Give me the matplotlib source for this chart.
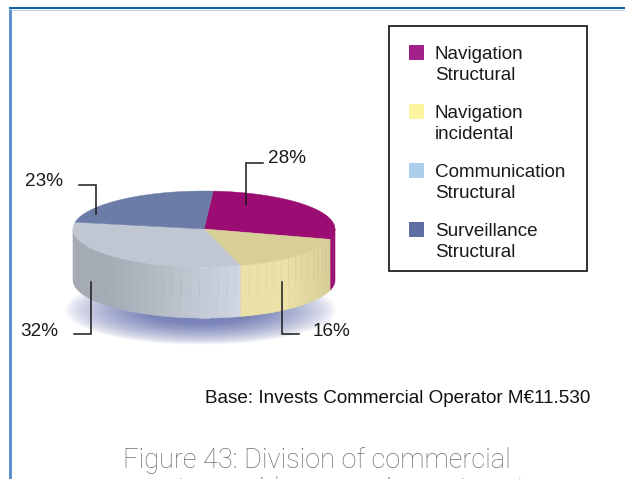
import numpy as np
import matplotlib
matplotlib.use('Agg')
import matplotlib.pyplot as plt
from matplotlib.patches import Rectangle

plt.rcParams['font.family'] = ['Liberation Sans', 'DejaVu Sans']

# Shares, clockwise from the top
labels = ['Navigation\nStructural', 'Navigation\nincidental', 'Communication\nStructural', 'Surveillance\nStructural']
shares = [28, 16, 32, 23]
share_labels = ['28%', '16%', '32%', '23%']
top_colors = ['#9b0d72', '#d8cf98', '#c0c7d2', '#6b7ca6']
legend_colors = ['#a3218a', '#fdf6a0', '#abcfec', '#5f6fa3']

base_note = 'Base: Invests Commercial Operator M€11.530'
# Second caption line is nearly all cut off in the reference, wording is a guess
title_lines = ['Figure 43: Division of commercial', 'operators guidance equipment cost']

# Pie geometry in image pixels
cx, cy = 204, 229
rx, ry = 131, 38
depth = 51
start_angle = 86


def ellipse_xy(angles):
    rad = np.radians(angles)
    return cx + rx * np.cos(rad), cy - ry * np.sin(rad)


def wall_color(x, a, b, x0, x1):
    t = np.clip((x - x0) / (x1 - x0), 0, 1)
    return tuple((np.array(a) + (np.array(b) - np.array(a)) * t) / 255)


fig = plt.figure(figsize=(6.25, 4.79), dpi=100)
ax = fig.add_axes([0, 0, 1, 1])
ax.set_xlim(0, 625)
ax.set_ylim(479, 0)
ax.axis('off')

# Page frame
ax.plot([10, 10], [9, 479], color='#4f8bc9', lw=2.0, solid_capstyle='butt')
ax.plot([9, 625], [8.2, 8.2], color='#0f5cab', lw=1.4, solid_capstyle='butt')
ax.plot([11, 625], [9.6, 9.6], color='#b5d0ec', lw=0.8, solid_capstyle='butt')

# Soft shadow under the pie
gx, gy = np.meshgrid(np.linspace(-1, 1, 300), np.linspace(-1, 1, 120))
dist = np.sqrt(gx ** 2 + gy ** 2)
shadow = np.zeros(dist.shape + (4,))
shadow[..., :3] = np.array([122, 132, 184]) / 255
shadow[..., 3] = np.clip((1 - dist) / 0.6, 0, 1) ** 0.7
ax.imshow(shadow, extent=[64, 337, 345, 275], aspect='auto', zorder=1, interpolation='bilinear')
ax.set_xlim(0, 625)
ax.set_ylim(479, 0)

# Slice angles come from the shares
fracs = np.array(shares) / sum(shares)
edges = start_angle - np.concatenate([[0], np.cumsum(fracs)]) * 360

# Side wall, drawn in strips
wall_styles = [
    ((155, 13, 114), (155, 13, 114), 325, 334),
    ((236, 226, 168), (214, 205, 150), 285, 331),
    ((164, 171, 180), (208, 214, 226), 108, 239),
]
for i, (a, b, x0, x1) in enumerate(wall_styles):
    lo, hi = edges[i + 1], edges[i]
    lo = max(lo, -180)
    hi = min(hi, 0)
    steps = np.arange(lo, hi + 4, 4.0)
    steps[-1] = hi
    for s0, s1 in zip(steps[:-1], steps[1:]):
        xs, ys = ellipse_xy(np.array([s0, s1]))
        c = wall_color((xs[0] + xs[1]) / 2, a, b, x0, x1)
        ax.fill([xs[0], xs[1], xs[1], xs[0]], [ys[0], ys[1], ys[1] + depth, ys[0] + depth],
                fc=c, ec=c, lw=0.4, zorder=2)
        if xs[0] > 108 and i > 0:
            ax.plot([xs[0], xs[0]], [ys[0], ys[0] + depth * 0.55], color='#6f6f6f',
                    lw=0.4, alpha=0.15, zorder=2)

# Top face
for i, c in enumerate(top_colors):
    ang = np.linspace(edges[i], edges[i + 1], 80)
    xs, ys = ellipse_xy(ang)
    ax.fill(np.r_[cx, xs], np.r_[cy, ys], color=c, lw=0.3, zorder=3)

# Leader lines and share labels
leaders = [
    ([246, 246, 263], [205, 162.5, 162.5]),
    ([282, 282, 299], [282, 334, 334]),
    ([91, 91, 74], [282, 334, 334]),
    ([79, 96, 96], [185, 185, 214]),
]
label_pos = [(287, 163), (331, 336), (39, 336), (44, 186)]
for (lx, ly), (tx, ty), s in zip(leaders, label_pos, share_labels):
    ax.plot(lx, ly, color='#1a1a1a', lw=1.1, solid_joinstyle='miter', zorder=4)
    ax.text(tx, ty, s, fontsize=13.6, color='#1a1a1a', ha='center', va='baseline', zorder=5)

# Legend box
ax.add_patch(Rectangle((389, 26), 198, 244.5, fc='white', ec='#222222', lw=1.3, zorder=4))
swatch_y = [45, 104, 163, 222]
for y, c, s in zip(swatch_y, legend_colors, labels):
    ax.add_patch(Rectangle((409, y), 15, 15, fc=c, ec='none', zorder=5))
    first, second = s.split('\n')
    ax.text(435, y + 14, first, fontsize=13.6, color='#1a1a1a', va='baseline', zorder=5)
    ax.text(435, y + 35, second, fontsize=13.6, color='#1a1a1a', va='baseline', zorder=5)

ax.text(205, 403, base_note, fontsize=13.6, color='#111111', va='baseline')

# Caption, second line runs off the bottom of the picture
ax.text(317, 468, title_lines[0], fontsize=19.5, color='#707070', ha='center', va='baseline',
        family=['Roboto', 'DejaVu Sans'], weight='light')
ax.text(317, 497, title_lines[1], fontsize=19.5, color='#707070', ha='center', va='baseline',
        family=['Roboto', 'DejaVu Sans'], weight='light', clip_on=True)

fig.savefig('out.png', dpi=100)
